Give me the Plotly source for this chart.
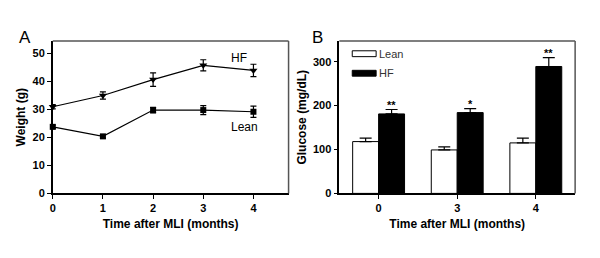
import plotly.graph_objects as go

# Panel A data
months = [0, 1, 2, 3, 4]
hf_weight = [31, 35, 40.7, 45.8, 44]
hf_weight_err = [0.8, 1.3, 2.4, 2.0, 2.2]
lean_weight = [23.8, 20.4, 29.8, 29.8, 29.2]
lean_weight_err = [0.6, 0.6, 1.0, 1.6, 2.0]

# Panel B data
glucose_times = ["0", "3", "4"]
lean_glucose = [118, 99, 115]
lean_glucose_err = [8, 7, 11]
hf_glucose = [181, 184, 289]
hf_glucose_err = [10, 9, 20]
stars = ["**", "*", "**"]

W, H = 600, 258
def px(x):
    return x / W
def py(y):
    return (H - y) / H

fig = go.Figure()

font_family = "Liberation Sans, Arial, sans-serif"

fig.add_trace(go.Scatter(
    x=months, y=hf_weight, mode="lines+markers", name="HF",
    line=dict(color="black", width=1.2),
    marker=dict(symbol="triangle-down", size=7, color="black"),
    error_y=dict(type="data", array=hf_weight_err, color="black", thickness=1.2, width=3),
    cliponaxis=False, showlegend=False, xaxis="x", yaxis="y"))
fig.add_trace(go.Scatter(
    x=months, y=lean_weight, mode="lines+markers", name="Lean",
    line=dict(color="black", width=1.2),
    marker=dict(symbol="square", size=6, color="black"),
    error_y=dict(type="data", array=lean_weight_err, color="black", thickness=1.2, width=3),
    cliponaxis=False, showlegend=False, xaxis="x", yaxis="y"))

fig.add_trace(go.Bar(
    x=glucose_times, y=lean_glucose, name="Lean",
    marker=dict(color="white", line=dict(color="black", width=1)),
    error_y=dict(type="data", array=lean_glucose_err, arrayminus=[0]*3, symmetric=False,
                 color="black", thickness=1.2, width=6),
    showlegend=False, xaxis="x2", yaxis="y2"))
fig.add_trace(go.Bar(
    x=glucose_times, y=hf_glucose, name="HF",
    marker=dict(color="black", line=dict(color="black", width=1)),
    error_y=dict(type="data", array=hf_glucose_err, arrayminus=[0]*3, symmetric=False,
                 color="black", thickness=1.2, width=6),
    showlegend=False, xaxis="x2", yaxis="y2"))

tickfont = dict(family=font_family, size=11, color="black", weight="bold")
titlefont = dict(family=font_family, size=12, color="black", weight="bold")

common_axis = dict(showline=True, linecolor="black", linewidth=1.5, ticks="outside",
                   ticklen=4, tickcolor="black", tickwidth=1.2, showgrid=False,
                   zeroline=False, tickfont=tickfont, title_font=titlefont)

fig.update_layout(
    width=W, height=H, margin=dict(l=0, r=0, t=0, b=0),
    paper_bgcolor="white", plot_bgcolor="white",
    barmode="group", bargap=0.34, bargroupgap=0,
    xaxis=dict(domain=[px(50), px(287)], range=[0, 4.7], tickvals=months,
               title=dict(text="Time after MLI (months)", standoff=6), anchor="y", **common_axis),
    yaxis=dict(domain=[py(198), py(42)], range=[0, 54.5], tickvals=[0, 10, 20, 30, 40, 50],
               title=dict(text="Weight (g)", standoff=4), anchor="x", **common_axis),
    xaxis2=dict(domain=[px(338), px(575)], range=[-0.5, 2.5], type="category",
                title=dict(text="Time after MLI (months)", standoff=6), anchor="y2", **common_axis),
    yaxis2=dict(domain=[py(198), py(42)], range=[0, 347], tickvals=[0, 100, 200, 300],
                title=dict(text="Glucose (mg/dL)", standoff=4), anchor="x2", **common_axis),
)

# gray top/right frame lines
for xr, yr in (("x", "y"), ("x2", "y2")):
    fig.add_shape(type="line", xref=f"{xr} domain", yref=f"{yr} domain",
                  x0=0, x1=1, y0=1, y1=1, line=dict(color="#555555", width=1.5))
    fig.add_shape(type="line", xref=f"{xr} domain", yref=f"{yr} domain",
                  x0=1, x1=1, y0=0, y1=1, line=dict(color="#555555", width=1.5))

# series labels panel A
fig.add_annotation(x=3.72, y=48.6, xref="x", yref="y", text="HF", showarrow=False,
                   xanchor="center", yanchor="middle",
                   font=dict(family=font_family, size=12, color="black"))
fig.add_annotation(x=3.82, y=23.8, xref="x", yref="y", text="Lean", showarrow=False,
                   xanchor="center", yanchor="middle",
                   font=dict(family=font_family, size=12, color="black"))

# significance stars (category index positions)
for i, (v, e, s) in enumerate(zip(hf_glucose, hf_glucose_err, stars)):
    fig.add_annotation(x=i, y=v + e, xref="x2", yref="y2", text=s, showarrow=False,
                       xshift=13, xanchor="center", yanchor="bottom", yshift=-3,
                       font=dict(family=font_family, size=11, color="black", weight="bold"))

# custom legend for panel B
fig.add_shape(type="rect", xref="paper", yref="paper", x0=px(351), x1=px(375), y0=py(58), y1=py(52),
              fillcolor="white", line=dict(color="black", width=1))
fig.add_shape(type="rect", xref="paper", yref="paper", x0=px(351), x1=px(375), y0=py(78), y1=py(72),
              fillcolor="black", line=dict(color="black", width=1))
fig.add_annotation(x=px(376), y=py(55), xref="paper", yref="paper", text="Lean", showarrow=False,
                   xanchor="left", yanchor="middle", font=dict(family=font_family, size=11, color="#333333"))
fig.add_annotation(x=px(376), y=py(75), xref="paper", yref="paper", text="HF", showarrow=False,
                   xanchor="left", yanchor="middle", font=dict(family=font_family, size=11, color="#333333"))

# panel letters
fig.add_annotation(x=px(22), y=py(38), xref="paper", yref="paper", text="A", showarrow=False,
                   xanchor="center", yanchor="middle",
                   font=dict(family=font_family, size=17, color="black"))
fig.add_annotation(x=px(316), y=py(38), xref="paper", yref="paper", text="B", showarrow=False,
                   xanchor="center", yanchor="middle",
                   font=dict(family=font_family, size=17, color="black"))

fig.write_html("out.html", config={"displayModeBar": False},
               post_script="document.body.style.margin='0px';")
